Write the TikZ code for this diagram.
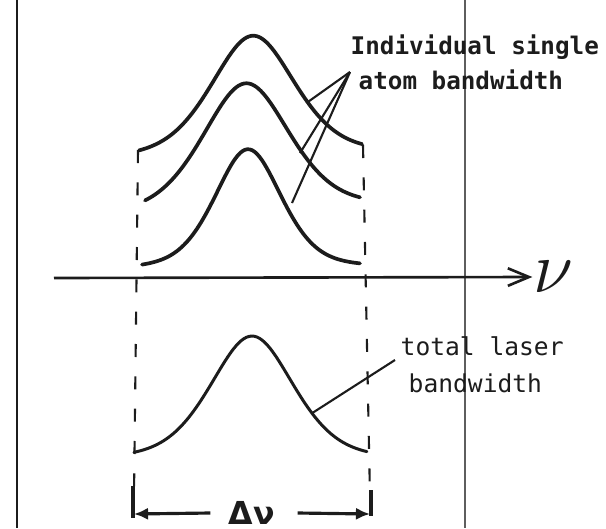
\documentclass[tikz,border=0pt]{standalone}
\usepackage{fontspec}
\usepackage{xcolor}
\usepackage{tikz}
\usetikzlibrary{arrows.meta,positioning,calc}
\newfontfamily\rotulo{DejaVu Sans Mono}
\newfontfamily\griego{DejaVu Sans}
\definecolor{tinta}{HTML}{1C1C1C}
\definecolor{pliegue}{HTML}{5E5E5E}

\begin{document}
\begin{tikzpicture}[x=1cm,y=-1cm,
  declare function={perfil(\t,\p,\w)=0.6*exp(-0.693*((\t-\p)/\w)^2)+0.4/(1+((\t-\p)/\w)^2);},
  curva/.style={draw=tinta,line width=1.05pt,line join=round,line cap=round},
  eje/.style={draw=tinta,line width=0.75pt,-{Straight Barb[length=6pt,width=5pt]}},
  guia/.style={draw=tinta,line width=0.6pt},
  discontinua/.style={draw=tinta,line width=0.6pt,dash pattern=on 3.7pt off 5.5pt},
  cota/.style={draw=tinta,line width=0.9pt,-{Latex[length=4pt,width=3.5pt]}},
  texto/.style={inner sep=0pt,anchor=west,align=left,text=tinta}
]
\useasboundingbox (0,0) rectangle (6.06,5.28);

% margen y pliegue del papel
\draw[draw=tinta,line width=0.85pt] (0.17,0) -- (0.17,5.28);
\draw[draw=pliegue,line width=0.4pt] (4.65,0) -- (4.65,5.28);

% anchos individuales
\draw[curva] plot[domain=1.39:3.62,samples=90,smooth]
  (\x,{1.50-0.05*(\x-1.39)/2.23-1.22*(perfil(\x,2.53,0.50)-0.084)});
\draw[curva] plot[domain=1.45:3.60,samples=90,smooth]
  (\x,{2.03-0.08*(\x-1.45)/2.15-1.30*(perfil(\x,2.46,0.52)-0.108)});
\draw[curva] plot[domain=1.42:3.60,samples=90,smooth]
  (\x,{2.65-0.02*(\x-1.42)/2.18-1.21*(perfil(\x,2.48,0.40)-0.051)});

% eje de frecuencias
\coordinate (ejeini) at (0.54,2.78);
\node[inner sep=0pt,text=tinta] (nu) at (5.53,2.77) {\fontsize{20}{20}\selectfont$\nu$};
\draw[eje] (ejeini) -- (nu.west);

% ancho total
\draw[curva,line width=0.85pt] plot[domain=1.34:3.67,samples=90,smooth]
  (\x,{4.52-1.255*(perfil(\x,2.52,0.50)-0.076)});

% limites
\draw[discontinua] (1.38,1.50) -- (1.34,4.95);
\draw[discontinua] (3.63,1.45) -- (3.70,4.97);

% rotulos
\node[texto,font=\rotulo\bfseries\fontsize{6.9}{9.9}\selectfont] (atomos) at (3.50,0.625)
  {Individual single\\\hspace{0.08cm}atom bandwidth};
\node[texto,font=\rotulo\fontsize{7}{10.5}\selectfont] (total) at (4.00,3.65)
  {total laser\\\hspace{0.08cm}bandwidth};

\coordinate (vertice) at (3.50,0.72);
\coordinate (c1) at (3.07,{1.475-1.22*(perfil(3.07,2.53,0.50)-0.084)});
\coordinate (c2) at (3.00,{2.01-1.30*(perfil(3.00,2.46,0.52)-0.108)});
\coordinate (c3) at (2.92,2.03);
\draw[guia] (vertice) -- (c1);
\draw[guia] (vertice) -- (c2);
\draw[guia] (vertice) -- (c3);

\coordinate (c4) at (3.12,{4.52-1.255*(perfil(3.12,2.52,0.50)-0.076)});
\draw[guia] ($(total.west)+(-0.05,-0.05)$) -- (c4);

% cota del ancho de banda
\node[inner sep=0pt,text=tinta] (dnu) at (2.52,5.13) {\griego\bfseries\fontsize{9}{9}\selectfont Δν};
\coordinate (cizq) at (1.34,5.14);
\coordinate (cder) at (3.70,5.14);
\draw[cota] ($(dnu.west)+(-0.18,0)$) -- (cizq);
\draw[cota] ($(dnu.east)+(0.22,0)$) -- (cder);
\draw[draw=tinta,line width=0.9pt] (1.33,4.86) -- (1.33,5.18);
\draw[draw=tinta,line width=0.9pt] (3.71,4.90) -- (3.71,5.16);
\end{tikzpicture}
\end{document}
